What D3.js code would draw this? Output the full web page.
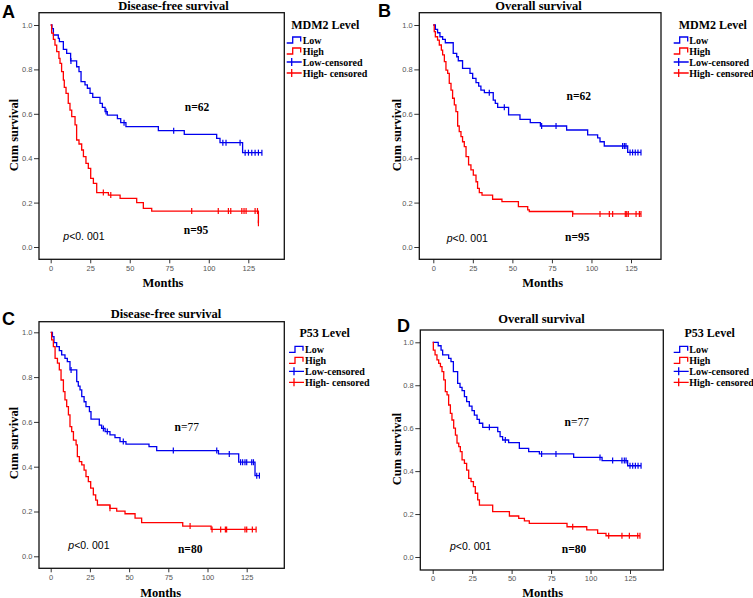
<!DOCTYPE html>
<html><head><meta charset="utf-8">
<script src="https://cdn.jsdelivr.net/npm/d3@7"></script>
<style>body{margin:0;background:#fff} svg{display:block}</style>
</head><body>
<svg id="c" width="753" height="598"></svg>
<script>
// ---------- DATA ----------
const xTicks = [0, 25, 50, 75, 100, 125];
const yTicks = [0, 0.2, 0.4, 0.6, 0.8, 1.0];
const legendItems = ["Low", "High", "Low-censored", "High- censored"];

// Panel A: Disease-free survival, MDM2
const dfsMdm2Low = [[0.8,0.984],[1.7,0.955],[4.8,0.94],[5.5,0.925],[8,0.89],[10.1,0.872],[12.6,0.838],[16.4,0.812],[17.9,0.79],[19.2,0.745],[21.7,0.73],[23.2,0.715],[24.9,0.692],[26.6,0.674],[31.2,0.647],[32.7,0.629],[34.4,0.61],[35.8,0.594],[42.2,0.578],[44.3,0.56],[47.6,0.542],[68.1,0.524],[84.5,0.507],[105,0.489],[107.1,0.47],[121.4,0.425]];
const dfsMdm2LowCens = [12.8,35,46.4,77.8,108.9,110.9,119.8,123,125.1,127.2,129.3,131.4,133.6];
const dfsMdm2High = [[0.6,0.963],[1.7,0.935],[2.7,0.909],[3.8,0.88],[5.2,0.85],[5.9,0.827],[6.9,0.79],[8,0.752],[8.6,0.719],[9.7,0.692],[11.1,0.647],[12.2,0.617],[13.3,0.587],[15.4,0.55],[16.4,0.482],[17.9,0.464],[19.6,0.437],[20.7,0.407],[22.3,0.377],[23.8,0.354],[25.3,0.309],[27,0.287],[29.1,0.245],[36.5,0.234],[43.9,0.219],[54.4,0.2],[58.6,0.174],[63.9,0.162],[131.4,0.107]];
const dfsMdm2HighCens = [33.3,38,89.2,106,112.4,113.9,120.9,122.3,123.6,129.3,130.8,131.4];

// Panel B: Overall survival, MDM2
const osMdm2Low = [[1.3,0.98],[2.7,0.965],[4.2,0.947],[5.9,0.935],[7.6,0.92],[12.6,0.872],[14.8,0.857],[15.8,0.839],[18.5,0.805],[23.2,0.782],[24.9,0.76],[27,0.74],[28.7,0.725],[30.1,0.707],[32.3,0.695],[37.9,0.662],[39.2,0.647],[40.7,0.629],[47.6,0.595],[54.8,0.575],[61.3,0.56],[67.7,0.545],[84.3,0.527],[97.6,0.505],[103.9,0.492],[105.4,0.474],[108.1,0.455],[122.9,0.426]];
const osMdm2LowCens = [35.4,44.9,68.5,77.6,119.7,120.8,121.8,124.4,126,127.7,129.4,131.3];
const osMdm2High = [[0.6,0.97],[1.3,0.947],[2.7,0.932],[3.8,0.91],[5.1,0.887],[5.9,0.865],[7,0.835],[8,0.797],[9.1,0.782],[10.1,0.737],[11.2,0.707],[12.2,0.67],[13.3,0.64],[14.3,0.61],[15.4,0.545],[16.4,0.52],[17.5,0.497],[18.5,0.474],[19.6,0.452],[20.7,0.407],[22.3,0.37],[23.8,0.347],[25.3,0.324],[27,0.294],[28,0.264],[29.1,0.245],[30.8,0.234],[37.5,0.215],[43.4,0.204],[53.8,0.182],[59.7,0.167],[60.7,0.16],[88.1,0.149]];
const osMdm2HighCens = [88.1,105.4,111.3,113.4,121.4,122.3,123.3,128.2,130.3,131.3];

// Panel C: Disease-free survival, P53
const dfsP53Low = [[1.1,0.981],[2.1,0.954],[3.8,0.936],[5.5,0.918],[7,0.899],[9.1,0.884],[10.6,0.869],[12.3,0.832],[16.6,0.78],[17.6,0.76],[18.7,0.743],[19.8,0.713],[21.3,0.69],[22.5,0.668],[24.7,0.646],[25.7,0.612],[31,0.586],[32.5,0.571],[34.7,0.557],[37.8,0.542],[41,0.53],[44.2,0.512],[48,0.501],[62.7,0.49],[67.6,0.472],[107,0.457],[119.9,0.42],[130.3,0.36]];
const dfsP53LowCens = [13,33.6,36.1,46.3,78.2,105.9,113.9,121.1,122.4,123.9,125,128.2,129.3,131.4,133.1];
const dfsP53High = [[0.6,0.966],[1.7,0.936],[2.8,0.884],[4.3,0.862],[5.5,0.832],[6.6,0.787],[8.1,0.735],[9.1,0.698],[10.2,0.668],[11.3,0.631],[12.3,0.579],[13.4,0.557],[14.5,0.519],[16.2,0.497],[17,0.445],[18.3,0.423],[19.8,0.408],[21.3,0.385],[22.5,0.356],[24,0.333],[25.5,0.304],[27.2,0.274],[28.7,0.251],[29.8,0.229],[37.8,0.214],[42.1,0.202],[47.4,0.19],[53.8,0.17],[58,0.15],[84.2,0.135],[102.3,0.12]];
const dfsP53HighCens = [37.8,88.9,102.9,108.4,111.4,112.2,123.9,125,128.6,131];

// Panel D: Overall survival, P53
const osP53Low = [[3.5,0.984],[5.3,0.964],[6.3,0.941],[10.1,0.925],[11.6,0.91],[13.1,0.863],[15.8,0.809],[17.3,0.79],[18.6,0.775],[20.1,0.747],[21.5,0.724],[23.2,0.703],[24.9,0.682],[26.4,0.661],[28.1,0.641],[29.6,0.623],[31.7,0.604],[41.2,0.584],[42.7,0.561],[44.3,0.545],[48.1,0.533],[54.9,0.506],[60.8,0.491],[67.6,0.48],[89.3,0.464],[107.3,0.449],[123.5,0.425]];
const osP53LowCens = [35.9,46,69,78.1,106,114,119.9,121.4,122.5,125,126.7,128.4,130.1,132];
const osP53High = [[0.4,0.964],[1.5,0.941],[2.7,0.918],[3.8,0.902],[4.9,0.887],[5.9,0.863],[7,0.825],[8,0.77],[9.1,0.755],[10.1,0.708],[11.2,0.669],[12.2,0.638],[13.3,0.6],[14.4,0.568],[15.4,0.53],[16.5,0.514],[17.5,0.491],[18.6,0.452],[20.1,0.436],[21.5,0.405],[22.8,0.366],[24.3,0.351],[25.8,0.328],[27,0.297],[28.5,0.266],[29.6,0.242],[38,0.211],[48.6,0.191],[54.5,0.18],[58.1,0.168],[61.2,0.157],[85.1,0.141],[97.6,0.126],[104.5,0.11],[109.8,0.099]];
const osP53HighCens = [88.7,111.5,119.9,124.6,129.9,131.3];

// ---------- LAYOUT ----------
const BLUE = "#0000ee", RED = "#ff0000";
const SERIF = "'Liberation Serif','Times New Roman',serif";
const SANS = "'Liberation Sans',Arial,sans-serif";

const panels = [
  {label:"A", title:"Disease-free survival", legTitle:"MDM2 Level", low:dfsMdm2Low, lowC:dfsMdm2LowCens, high:dfsMdm2High, highC:dfsMdm2HighCens, nLow:"62", nHigh:"95", nBold:true,
   f:{l:39,t:12.7,r:284.3,b:259.3}, xr:[50.7,248.3], yr:[247,25], lab:[2,18], tit:[173.5,10], ylab:[18,135], mon:[163,287],
   legT:[325.3,29], legS:286.7, legX:302.7, legY:[40,51,62,73], nL:[197,111], nH:[196,234], p:[63.3,240]},
  {label:"B", title:"Overall survival", legTitle:"MDM2 Level", low:osMdm2Low, lowC:osMdm2LowCens, high:osMdm2High, highC:osMdm2HighCens, nLow:"62", nHigh:"95", nBold:true,
   f:{l:419.3,t:12.7,r:661,b:259.3}, xr:[433.3,631], yr:[247,25], lab:[378,17], tit:[538.5,10], ylab:[401,135], mon:[542.7,287],
   legT:[712.8,29], legS:673.7, legX:689.3, legY:[40,51,62,73], nL:[578.8,100], nH:[577.3,240.5], p:[446.7,242]},
  {label:"C", title:"Disease-free survival", legTitle:"P53 Level", low:dfsP53Low, lowC:dfsP53LowCens, high:dfsP53High, highC:dfsP53HighCens, nLow:"77", nHigh:"80", nBold:false,
   f:{l:39,t:321.7,r:284.3,b:568.3}, xr:[50.7,246.7], yr:[556.3,332.3], lab:[2,325], tit:[166,318], ylab:[18,443], mon:[160.7,596.5],
   legT:[324.7,337], legS:289, legX:305, legY:[349.3,360.3,371.3,382.3], nL:[186.8,430.5], nH:[190.2,553], p:[68.3,549]},
  {label:"D", title:"Overall survival", legTitle:"P53 Level", low:osP53Low, lowC:osP53LowCens, high:osP53High, highC:osP53HighCens, nLow:"77", nHigh:"80", nBold:false,
   f:{l:420.3,t:330,r:663.3,b:570}, xr:[432.7,630], yr:[557,342.3], lab:[397,332], tit:[541.5,323], ylab:[401,449], mon:[542.7,596.5],
   legT:[709.7,337], legS:673.7, legX:689.3, legY:[349.3,360.3,371.3,382.3], nL:[576.8,426], nH:[574,552.7], p:[450,550]}
];

const svg = d3.select("#c");

function survAt(events, t) {
  let s = 1;
  for (const [et, es] of events) if (et <= t) s = es;
  return s;
}

function drawCurve(g, x, y, events, cens, color) {
  const end = Math.max(d3.max(cens), d3.max(events, d => d[0]));
  const p = d3.path();
  p.moveTo(x(0), y(1));
  let cy = y(1);
  for (const [t, s] of events) {
    p.lineTo(x(t), cy);
    cy = y(s);
    p.lineTo(x(t), cy);
  }
  p.lineTo(x(end), cy);
  g.append("path").attr("d", p.toString()).attr("fill", "none")
    .attr("stroke", color).attr("stroke-width", 1.3);
  g.selectAll(null).data(cens).enter().append("line")
    .attr("x1", d => x(d)).attr("x2", d => x(d))
    .attr("y1", d => y(survAt(events, d)) - 3)
    .attr("y2", d => y(survAt(events, d)) + 3)
    .attr("stroke", color).attr("stroke-width", 1.2);
}

for (const P of panels) {
  const g = svg.append("g");
  const x = d3.scaleLinear().domain([0, 125]).range(P.xr);
  const y = d3.scaleLinear().domain([0, 1]).range(P.yr);

  // axes
  const ya = g.append("g").attr("transform", `translate(${P.f.l},0)`)
    .call(d3.axisLeft(y).tickValues(yTicks).tickFormat(d3.format(".1f")).tickSize(5).tickPadding(1.5));
  const xa = g.append("g").attr("transform", `translate(0,${P.f.b})`)
    .call(d3.axisBottom(x).tickValues(xTicks).tickSize(4).tickPadding(2));
  [ya, xa].forEach(a => {
    a.select(".domain").remove();
    a.selectAll(".tick line").attr("stroke", "#333").attr("stroke-width", 1);
    a.selectAll(".tick text").attr("fill", "#555").style("font-family", SANS).style("font-size", "7.5px");
  });

  // frame
  g.append("rect").attr("x", P.f.l).attr("y", P.f.t)
    .attr("width", P.f.r - P.f.l).attr("height", P.f.b - P.f.t)
    .attr("fill", "none").attr("stroke", "#111").attr("stroke-width", 1.3);

  // curves
  drawCurve(g, x, y, P.low, P.lowC, BLUE);
  drawCurve(g, x, y, P.high, P.highC, RED);

  // texts
  g.append("text").attr("x", P.lab[0]).attr("y", P.lab[1]).text(P.label)
    .style("font-family", SANS).style("font-weight", "bold").style("font-size", "18px");
  g.append("text").attr("x", P.tit[0]).attr("y", P.tit[1]).attr("text-anchor", "middle").text(P.title)
    .style("font-family", SERIF).style("font-weight", "bold").style("font-size", "12.5px");
  g.append("text").attr("transform", `translate(${P.ylab[0]},${P.ylab[1]}) rotate(-90)`)
    .attr("text-anchor", "middle").text("Cum survival")
    .style("font-family", SERIF).style("font-weight", "bold").style("font-size", "12.5px");
  g.append("text").attr("x", P.mon[0]).attr("y", P.mon[1]).attr("text-anchor", "middle").text("Months")
    .style("font-family", SERIF).style("font-weight", "bold").style("font-size", "12.5px");

  // n labels
  const nl = g.append("text").attr("x", P.nL[0]).attr("y", P.nL[1]).attr("text-anchor", "middle")
    .style("font-family", SERIF).style("font-size", "11.5px");
  nl.append("tspan").style("font-weight", "bold").text("n");
  nl.append("tspan").style("font-weight", P.nBold ? "bold" : "normal").text("=" + P.nLow);
  g.append("text").attr("x", P.nH[0]).attr("y", P.nH[1]).attr("text-anchor", "middle")
    .style("font-family", SERIF).style("font-weight", "bold").style("font-size", "11.5px").text("n=" + P.nHigh);

  // p value
  const pt = g.append("text").attr("x", P.p[0]).attr("y", P.p[1])
    .style("font-family", SANS).style("font-size", "10.5px");
  pt.append("tspan").style("font-style", "italic").text("p");
  pt.append("tspan").text("<0. 001");

  // legend
  g.append("text").attr("x", P.legT[0]).attr("y", P.legT[1]).attr("text-anchor", "middle").text(P.legTitle)
    .style("font-family", SERIF).style("font-weight", "bold").style("font-size", "12px");
  legendItems.forEach((name, i) => {
    const cy = P.legY[i];
    const col = i % 2 === 0 ? BLUE : RED;
    const x0 = P.legS;
    if (i < 2) {
      g.append("path").attr("d", `M${x0},${cy + 3}H${x0 + 6}V${cy - 3}H${x0 + 14}V${cy + 1.5}`)
        .attr("fill", "none").attr("stroke", col).attr("stroke-width", 1.3);
    } else {
      g.append("path").attr("d", `M${x0},${cy}H${x0 + 15}M${x0 + 5},${cy - 4}V${cy + 4}`)
        .attr("fill", "none").attr("stroke", col).attr("stroke-width", 1.3);
    }
    g.append("text").attr("x", P.legX).attr("y", cy + 3.5).text(name)
      .style("font-family", SERIF).style("font-weight", "bold").style("font-size", "10px");
  });
}
</script>
</body></html>
